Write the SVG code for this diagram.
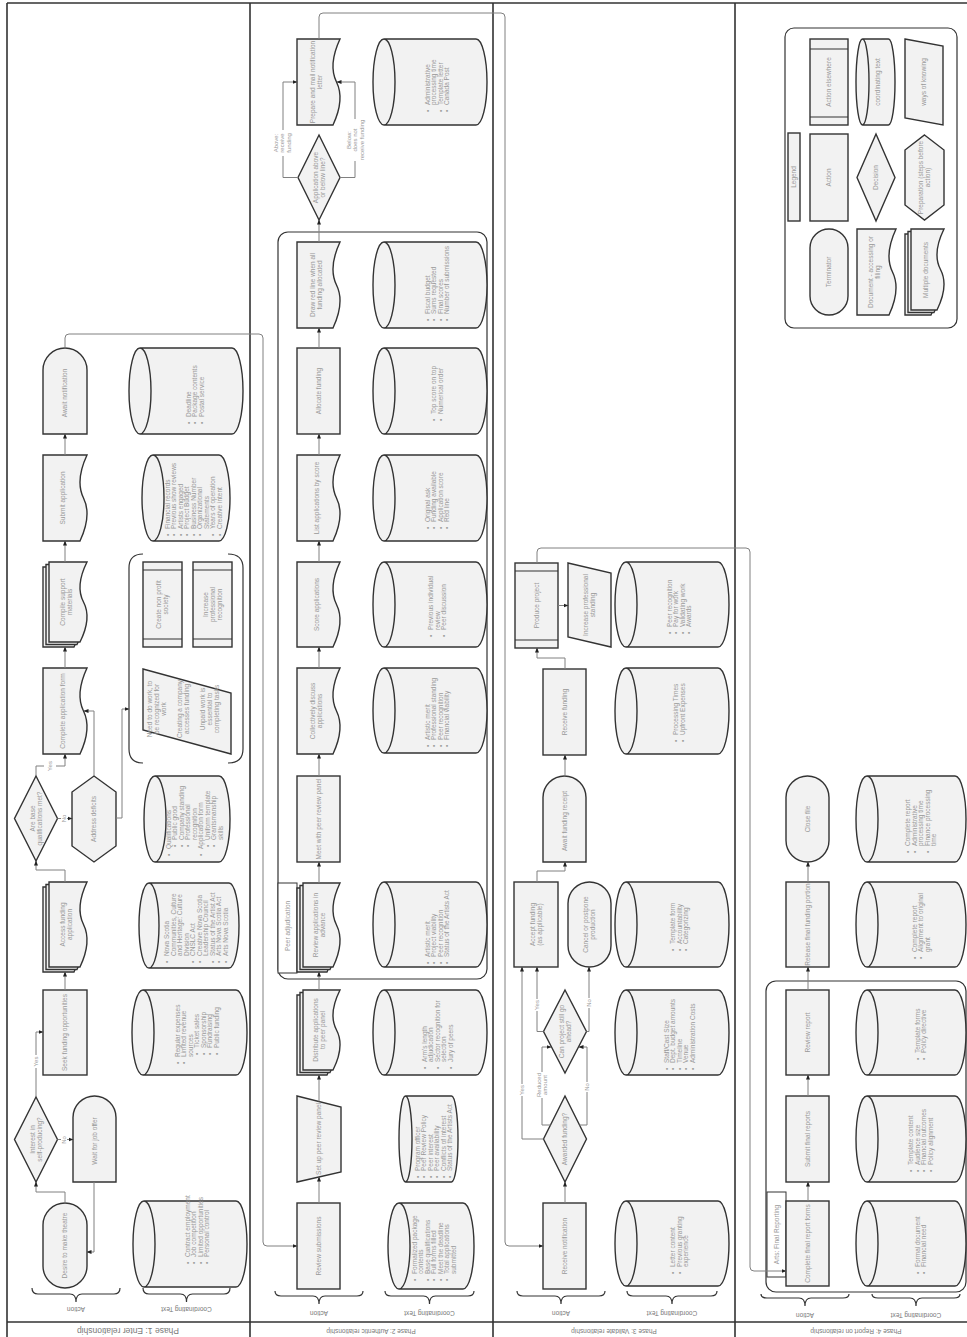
<svg xmlns="http://www.w3.org/2000/svg" width="967" height="1337" viewBox="0 0 967 1337">
<defs>
<style>
.s{fill:#f2f2f2;stroke:#333;stroke-width:1.4}
.g{fill:none;stroke:#333;stroke-width:1.2}
.lb{fill:#fff;stroke:#333;stroke-width:1}
.t{font-family:"Liberation Sans",Arial,sans-serif;font-size:6.5px;fill:#999}
.lt{font-family:"Liberation Sans",Arial,sans-serif;font-size:6px;fill:#999}
.h{font-family:"Liberation Sans",Arial,sans-serif;font-size:6.5px;fill:#777}
.c{fill:none;stroke:#808080;stroke-width:1;marker-end:url(#ah)}
.f{fill:none;stroke:#333;stroke-width:1.6}
.br{fill:none;stroke:#333;stroke-width:1.2}
.w{fill:#fff}
</style>
<marker id="ah" viewBox="0 0 10 10" refX="9" refY="5" markerWidth="5" markerHeight="5" orient="auto" markerUnits="userSpaceOnUse"><path d="M0,1 L10,5 L0,9 Z" fill="#222"/></marker>
</defs>
<rect x="0" y="0" width="967" height="1337" fill="#fff"/>
<g id="frame">
<path class="f" d="M7,3 H967 M7,3 V1337 M250,3 V1337 M493,3 V1337 M735,3 V1337 M7,1322 H967"/>
<text class="h" style="font-size:8.5px" text-anchor="middle" transform="translate(128,1328) rotate(180)">Phase 1: Enter relationship</text>
<text class="h" text-anchor="middle" transform="translate(371,1329) rotate(180)">Phase 2: Authentic relationship</text>
<text class="h" text-anchor="middle" transform="translate(614,1329) rotate(180)">Phase 3: Validate relationship</text>
<text class="h" text-anchor="middle" transform="translate(856,1329) rotate(180)">Phase 4: Report on relationship</text>
<path class="br" d="M32,1288 Q32,1294 38,1294 H70 Q76,1294 76,1302 Q76,1294 82,1294 H114 Q120,1294 120,1288"/>
<path class="br" d="M143,1288 Q143,1294 149,1294 H180.5 Q186.5,1294 186.5,1302 Q186.5,1294 192.5,1294 H224 Q230,1294 230,1288"/>
<path class="br" d="M275,1291 Q275,1296 281,1296 H313 Q319,1296 319,1304 Q319,1296 325,1296 H357 Q363,1296 363,1291"/>
<path class="br" d="M385,1291 Q385,1296 391,1296 H423.5 Q429.5,1296 429.5,1304 Q429.5,1296 435.5,1296 H468 Q474,1296 474,1291"/>
<path class="br" d="M517,1291 Q517,1296 523,1296 H555 Q561,1296 561,1304 Q561,1296 567,1296 H599 Q605,1296 605,1291"/>
<path class="br" d="M627,1291 Q627,1296 633,1296 H666 Q672,1296 672,1304 Q672,1296 678,1296 H711 Q717,1296 717,1291"/>
<path class="br" d="M761,1294 Q761,1298 767,1298 H799 Q805,1298 805,1306 Q805,1298 811,1298 H843 Q849,1298 849,1294"/>
<path class="br" d="M872,1294 Q872,1298 878,1298 H910 Q916,1298 916,1306 Q916,1298 922,1298 H954 Q960,1298 960,1294"/>
<text class="h" text-anchor="middle" transform="translate(76,1306.5) rotate(180)">Action</text>
<text class="h" text-anchor="middle" transform="translate(186.5,1306.5) rotate(180)">Coordinating Text</text>
<text class="h" text-anchor="middle" transform="translate(319,1310.5) rotate(180)">Action</text>
<text class="h" text-anchor="middle" transform="translate(429.5,1310.5) rotate(180)">Coordinating Text</text>
<text class="h" text-anchor="middle" transform="translate(561,1310.5) rotate(180)">Action</text>
<text class="h" text-anchor="middle" transform="translate(672,1310.5) rotate(180)">Coordinating Text</text>
<text class="h" text-anchor="middle" transform="translate(805,1312.5) rotate(180)">Action</text>
<text class="h" text-anchor="middle" transform="translate(916,1312.5) rotate(180)">Coordinating Text</text>
</g>

<g id="containers">
<path class="g" d="M143,554 Q129,554 129,568 V749 Q129,763 143,763 M228,554 Q243,554 243,568 V749 Q243,763 228,763"/>
<rect class="g" x="278" y="232" width="209" height="747" rx="10"/>
<rect class="lb" x="278" y="883" width="19" height="90"/>
<text class="t" text-anchor="middle" transform="translate(287.5,926) rotate(-90)" y="2.2">Peer adjudication</text>
<rect class="g" x="766" y="981" width="200" height="311" rx="10"/>
<rect class="lb" x="767" y="1192" width="19" height="85"/>
<text class="t" text-anchor="middle" transform="translate(776.5,1234.5) rotate(-90)" y="2.2">Arts: Final Reporting</text>
</g>

<g id="n-desire"><rect class="s" x="43" y="1203" width="44" height="85" rx="22"/><text class="t" text-anchor="middle" transform="translate(65,1245.5) rotate(-90)" y="2.2">Desire to make theatre</text></g>
<g id="n-interest"><polygon class="s" points="36,1097 57.5,1139.5 36,1182 14.5,1139.5"/><text class="t" text-anchor="middle" transform="translate(36,1139.5) rotate(-90)"><tspan x="0" dy="-1.3">Interest in</tspan><tspan x="0" dy="7">self-producing?</tspan></text></g>
<g id="n-wait"><path class="s" d="M73,1182 V1117.5 A21.5,21.5 0 0 1 116,1117.5 V1182 Z"/><text class="t" text-anchor="middle" transform="translate(94.5,1141) rotate(-90)" y="2.2">Wait for job offer</text></g>
<g id="n-seek"><rect class="s" x="43" y="990" width="44" height="85"/><text class="t" text-anchor="middle" transform="translate(65,1032.5) rotate(-90)" y="2.2">Seek funding opportunities</text></g>
<g id="n-access"><path class="s" d="M43,887 H81 Q69,912.5 77.5,929.5 T74,972 H43 Z"/><path class="s" d="M46,884.5 H84 Q72,910 80.5,927 T77,969.5 H46 Z"/><path class="s" d="M49,882 H87 Q75,907.5 83.5,924.5 T80,967 H49 Z"/><text class="t" text-anchor="middle" transform="translate(66,924.5) rotate(-90)"><tspan x="0" dy="-1.3">Access funding</tspan><tspan x="0" dy="7">application</tspan></text></g>
<g id="n-arebase"><polygon class="s" points="36,776 57.5,818.5 36,861 14.5,818.5"/><text class="t" text-anchor="middle" transform="translate(36,818.5) rotate(-90)"><tspan x="0" dy="-1.3">Are base</tspan><tspan x="0" dy="7">qualifications met?</tspan></text></g>
<g id="n-address"><polygon class="s" points="94,776 116,792 116,846 94,862 72,846 72,792"/><text class="t" text-anchor="middle" transform="translate(94,819) rotate(-90)" y="2.2">Address deficits</text></g>
<g id="n-complete"><path class="s" d="M43,668 H87 Q75,693.8 83.5,711 T80,754 H43 Z"/><text class="t" text-anchor="middle" transform="translate(63,711) rotate(-90)" y="2.2">Complete application form</text></g>
<g id="n-compile"><path class="s" d="M43,567 H81 Q69,591 77.5,607 T74,647 H43 Z"/><path class="s" d="M46,564.5 H84 Q72,588.5 80.5,604.5 T77,644.5 H46 Z"/><path class="s" d="M49,562 H87 Q75,586 83.5,602 T80,642 H49 Z"/><text class="t" text-anchor="middle" transform="translate(66,602) rotate(-90)"><tspan x="0" dy="-1.3">Compile support</tspan><tspan x="0" dy="7">materials</tspan></text></g>
<g id="n-submit"><path class="s" d="M43,455 H87 Q75,480.8 83.5,498 T80,541 H43 Z"/><text class="t" text-anchor="middle" transform="translate(63,498) rotate(-90)" y="2.2">Submit application</text></g>
<g id="n-await"><path class="s" d="M43,434 V370 A22,22 0 0 1 87,370 V434 Z"/><text class="t" text-anchor="middle" transform="translate(65,393) rotate(-90)" y="2.2">Await notification</text></g>

<g id="n-group1-ways"><polygon class="s" points="143,669 231,693 231,754 143,730"/><text class="t" text-anchor="middle" transform="translate(187,709) rotate(-90)"><tspan x="0" dy="-35">Need to do work, to</tspan><tspan x="0" dy="7">be recognized for</tspan><tspan x="0" dy="6.5">work</tspan><tspan x="0" dy="16.5">Creating a company</tspan><tspan x="0" dy="7">accesses funding</tspan><tspan x="0" dy="16">Unpaid work is</tspan><tspan x="0" dy="7">essential to</tspan><tspan x="0" dy="7">completing  tasks</tspan></text></g>
<g id="n-nonprofit"><rect class="s" x="143" y="562" width="39" height="85"/><path class="g" d="M143,570 H182 M143,639 H182"/><text class="t" text-anchor="middle" transform="translate(162.5,604.5) rotate(-90)"><tspan x="0" dy="-1.3">Create non profit</tspan><tspan x="0" dy="7">society</tspan></text></g>
<g id="n-increase-recog"><rect class="s" x="193" y="562" width="39" height="85"/><path class="g" d="M193,570 H232 M193,639 H232"/><text class="t" text-anchor="middle" transform="translate(212.5,604.5) rotate(-90)"><tspan x="0" dy="-4.8">Increase</tspan><tspan x="0" dy="7">professional</tspan><tspan x="0" dy="7">recognition</tspan></text></g>

<g id="cyl-a"><path class="s" d="M144,1201 H236 A11,43 0 0 1 236,1287 H144 A11,43 0 0 1 144,1201 Z M144,1201 A11,43 0 0 1 144,1287"/><text class="t" transform="translate(197.5,1264) rotate(-90)"><tspan x="0" dy="-7.55">•</tspan><tspan x="7">Contract employment</tspan><tspan x="0" dy="6.5">•</tspan><tspan x="7">Job competition</tspan><tspan x="0" dy="6.5">•</tspan><tspan x="7">Limited opportunities</tspan><tspan x="0" dy="6.5">•</tspan><tspan x="7">Personal control</tspan></text></g>
<g id="cyl-b"><path class="s" d="M143,990 H236 A11,42.5 0 0 1 236,1075 H143 A11,42.5 0 0 1 143,990 Z M143,990 A11,42.5 0 0 1 143,1075"/><text class="t" transform="translate(197,1064) rotate(-90)"><tspan x="0" dy="-17.3">•</tspan><tspan x="7">Regular expenses</tspan><tspan x="0" dy="6.5">•</tspan><tspan x="7">Limited revenue</tspan><tspan x="7" dy="6.5">sources</tspan><tspan x="9" dy="6.5">•</tspan><tspan x="16">Ticket sales</tspan><tspan x="9" dy="6.5">•</tspan><tspan x="16">Sponsorship</tspan><tspan x="9" dy="6.5">•</tspan><tspan x="16">Fundraising</tspan><tspan x="9" dy="6.5">•</tspan><tspan x="16">Public funding</tspan></text></g>
<g id="cyl-c"><path class="s" d="M149,883 H229 A10,42.5 0 0 1 229,968 H149 A10,42.5 0 0 1 149,883 Z M149,883 A10,42.5 0 0 1 149,968"/><text class="t" transform="translate(196.5,963) rotate(-90)"><tspan x="0" dy="-27.05">•</tspan><tspan x="7">Nova Scotia</tspan><tspan x="7" dy="6.5">Communities, Culture</tspan><tspan x="7" dy="6.5">and Heritage: Culture</tspan><tspan x="7" dy="6.5">Division</tspan><tspan x="0" dy="6.5">•</tspan><tspan x="7">CNSLC Act</tspan><tspan x="0" dy="6.5">•</tspan><tspan x="7">Creative Nova Scotia</tspan><tspan x="7" dy="6.5">Leadership Council</tspan><tspan x="0" dy="6.5">•</tspan><tspan x="7">Status of the Artist Act</tspan><tspan x="0" dy="6.5">•</tspan><tspan x="7">Arts Nova Scotia Act</tspan><tspan x="0" dy="6.5">•</tspan><tspan x="7">Arts Nova Scotia</tspan></text></g>
<g id="cyl-d"><path class="s" d="M155,776 H219 A11,43 0 0 1 219,862 H155 A11,43 0 0 1 155,776 Z M155,776 A11,43 0 0 1 155,862"/><text class="t" transform="translate(194.5,856) rotate(-90)"><tspan x="0" dy="-23.8">•</tspan><tspan x="7">Qualifications</tspan><tspan x="9" dy="6.5">•</tspan><tspan x="16">Public good</tspan><tspan x="9" dy="6.5">•</tspan><tspan x="16">Company standing</tspan><tspan x="9" dy="6.5">•</tspan><tspan x="16">Professional</tspan><tspan x="16" dy="6.5">recognition</tspan><tspan x="0" dy="6.5">•</tspan><tspan x="7">Application form</tspan><tspan x="9" dy="6.5">•</tspan><tspan x="16">Uniform template</tspan><tspan x="9" dy="6.5">•</tspan><tspan x="16">Grantsmanship</tspan><tspan x="16" dy="6.5">skills</tspan></text></g>
<g id="cyl-e"><path class="s" d="M153,455 H219 A11,43 0 0 1 219,541 H153 A11,43 0 0 1 153,455 Z M153,455 A11,43 0 0 1 153,541"/><text class="t" transform="translate(193.5,536) rotate(-90)"><tspan x="0" dy="-23.8">•</tspan><tspan x="7">Financial records</tspan><tspan x="0" dy="6.5">•</tspan><tspan x="7">Previous show reviews</tspan><tspan x="0" dy="6.5">•</tspan><tspan x="7">Artists engaged</tspan><tspan x="0" dy="6.5">•</tspan><tspan x="7">Project Budget</tspan><tspan x="0" dy="6.5">•</tspan><tspan x="7">Business Number</tspan><tspan x="0" dy="6.5">•</tspan><tspan x="7">Organizational</tspan><tspan x="7" dy="6.5">Statements</tspan><tspan x="0" dy="6.5">•</tspan><tspan x="7">Years of operation</tspan><tspan x="0" dy="6.5">•</tspan><tspan x="7">Creative intent</tspan></text></g>
<g id="cyl-f"><path class="s" d="M140,348 H232 A11,43 0 0 1 232,434 H140 A11,43 0 0 1 140,348 Z M140,348 A11,43 0 0 1 140,434"/><text class="t" transform="translate(195,424) rotate(-90)"><tspan x="0" dy="-4.3">•</tspan><tspan x="7">Deadline</tspan><tspan x="0" dy="6.5">•</tspan><tspan x="7">Package contents</tspan><tspan x="0" dy="6.5">•</tspan><tspan x="7">Postal service</tspan></text></g>

<g id="n-review-sub"><rect class="s" x="297" y="1203" width="43" height="86"/><text class="t" text-anchor="middle" transform="translate(318.5,1246) rotate(-90)" y="2.2">Review submissions</text></g>
<g id="n-setup"><polygon class="s" points="297,1096 341,1107 341,1172 297,1182"/><text class="t" text-anchor="middle" transform="translate(319,1139) rotate(-90)" y="2.2">Set up peer review panel</text></g>
<g id="n-distribute"><path class="s" d="M297,995 H334 Q322,1019 330.5,1035 T327,1075 H297 Z"/><path class="s" d="M300,992.5 H337 Q325,1016.5 333.5,1032.5 T330,1072.5 H300 Z"/><path class="s" d="M303,990 H340 Q328,1014 336.5,1030 T333,1070 H303 Z"/><text class="t" text-anchor="middle" transform="translate(319.5,1030) rotate(-90)"><tspan x="0" dy="-1.3">Distribute applications</tspan><tspan x="0" dy="7">to peer panel</tspan></text></g>
<g id="n-review-adv"><path class="s" d="M297,888 H334 Q322,913.2 330.5,930 T327,972 H297 Z"/><path class="s" d="M300,885.5 H337 Q325,910.7 333.5,927.5 T330,969.5 H300 Z"/><path class="s" d="M303,883 H340 Q328,908.2 336.5,925 T333,967 H303 Z"/><text class="t" text-anchor="middle" transform="translate(319.5,925) rotate(-90)"><tspan x="0" dy="-1.3">Review applications in</tspan><tspan x="0" dy="7">advance</tspan></text></g>
<g id="n-meet"><rect class="s" x="297" y="776" width="43" height="86"/><text class="t" text-anchor="middle" transform="translate(318.5,819) rotate(-90)" y="2.2">Meet with peer review panel</text></g>
<g id="n-collect"><path class="s" d="M297,668 H340 Q328,693.8 336.5,711 T333,754 H297 Z"/><text class="t" text-anchor="middle" transform="translate(316.5,711) rotate(-90)"><tspan x="0" dy="-1.3">Collectively discuss</tspan><tspan x="0" dy="7">applications</tspan></text></g>
<g id="n-score"><path class="s" d="M297,562 H340 Q328,587.5 336.5,604.5 T333,647 H297 Z"/><text class="t" text-anchor="middle" transform="translate(316.5,604.5) rotate(-90)" y="2.2">Score applications</text></g>
<g id="n-list"><path class="s" d="M297,455 H340 Q328,480.8 336.5,498 T333,541 H297 Z"/><text class="t" text-anchor="middle" transform="translate(316.5,498) rotate(-90)" y="2.2">List applications by score</text></g>
<g id="n-allocate"><rect class="s" x="297" y="348" width="43" height="86"/><text class="t" text-anchor="middle" transform="translate(318.5,391) rotate(-90)" y="2.2">Allocate funding</text></g>
<g id="n-draw"><path class="s" d="M297,242 H340 Q328,267.8 336.5,285 T333,328 H297 Z"/><text class="t" text-anchor="middle" transform="translate(316.5,285) rotate(-90)"><tspan x="0" dy="-1.3">Draw red line when all</tspan><tspan x="0" dy="7">funding allocated</tspan></text></g>
<g id="n-above"><polygon class="s" points="319,135 340,177.5 319,220 298,177.5"/><text class="t" text-anchor="middle" transform="translate(319,177.5) rotate(-90)"><tspan x="0" dy="-1.3">Application above</tspan><tspan x="0" dy="7">or below line?</tspan></text></g>
<g id="n-prepare"><path class="s" d="M297,39 H340 Q328,64.8 336.5,82 T333,125 H297 Z"/><text class="t" text-anchor="middle" transform="translate(316.5,82) rotate(-90)"><tspan x="0" dy="-1.3">Prepare and mail notification</tspan><tspan x="0" dy="7">letter</tspan></text></g>

<g id="cyl-g"><path class="s" d="M384,39 H476 A11,43 0 0 1 476,125 H384 A11,43 0 0 1 384,39 Z M384,39 A11,43 0 0 1 384,125"/><text class="t" transform="translate(437.5,112) rotate(-90)"><tspan x="0" dy="-7.55">•</tspan><tspan x="7">Administrative</tspan><tspan x="7" dy="6.5">processing time</tspan><tspan x="0" dy="6.5">•</tspan><tspan x="7">Template letter</tspan><tspan x="0" dy="6.5">•</tspan><tspan x="7">Canada Post</tspan></text></g>
<g id="cyl-h"><path class="s" d="M384,242 H476 A11,43 0 0 1 476,328 H384 A11,43 0 0 1 384,242 Z M384,242 A11,43 0 0 1 384,328"/><text class="t" transform="translate(437.5,321) rotate(-90)"><tspan x="0" dy="-7.55">•</tspan><tspan x="7">Fiscal budget</tspan><tspan x="0" dy="6.5">•</tspan><tspan x="7">Sums requested</tspan><tspan x="0" dy="6.5">•</tspan><tspan x="7">Final scores</tspan><tspan x="0" dy="6.5">•</tspan><tspan x="7">Number of submissions</tspan></text></g>
<g id="cyl-i"><path class="s" d="M384,348 H476 A11,43 0 0 1 476,434 H384 A11,43 0 0 1 384,348 Z M384,348 A11,43 0 0 1 384,434"/><text class="t" transform="translate(437.5,421) rotate(-90)"><tspan x="0" dy="-1.05">•</tspan><tspan x="7">Top score on top</tspan><tspan x="0" dy="6.5">•</tspan><tspan x="7">Numerical order</tspan></text></g>
<g id="cyl-j"><path class="s" d="M384,455 H476 A11,43 0 0 1 476,541 H384 A11,43 0 0 1 384,455 Z M384,455 A11,43 0 0 1 384,541"/><text class="t" transform="translate(437.5,529) rotate(-90)"><tspan x="0" dy="-7.55">•</tspan><tspan x="7">Original ask</tspan><tspan x="0" dy="6.5">•</tspan><tspan x="7">Funding available</tspan><tspan x="0" dy="6.5">•</tspan><tspan x="7">Application score</tspan><tspan x="0" dy="6.5">•</tspan><tspan x="7">Red line</tspan></text></g>
<g id="cyl-k"><path class="s" d="M384,562 H476 A11,42.5 0 0 1 476,647 H384 A11,42.5 0 0 1 384,562 Z M384,562 A11,42.5 0 0 1 384,647"/><text class="t" transform="translate(437.5,637) rotate(-90)"><tspan x="0" dy="-4.3">•</tspan><tspan x="7">Previous individual</tspan><tspan x="7" dy="6.5">review</tspan><tspan x="0" dy="6.5">•</tspan><tspan x="7">Peer discussion</tspan></text></g>
<g id="cyl-l"><path class="s" d="M384,668 H476 A11,42.5 0 0 1 476,753 H384 A11,42.5 0 0 1 384,668 Z M384,668 A11,42.5 0 0 1 384,753"/><text class="t" transform="translate(437.5,747) rotate(-90)"><tspan x="0" dy="-7.55">•</tspan><tspan x="7">Artistic merit</tspan><tspan x="0" dy="6.5">•</tspan><tspan x="7">Professional standing</tspan><tspan x="0" dy="6.5">•</tspan><tspan x="7">Peer recognition</tspan><tspan x="0" dy="6.5">•</tspan><tspan x="7">Financial viability</tspan></text></g>
<g id="cyl-m"><path class="s" d="M384,882 H476 A11,42.5 0 0 1 476,967 H384 A11,42.5 0 0 1 384,882 Z M384,882 A11,42.5 0 0 1 384,967"/><text class="t" transform="translate(437.5,964) rotate(-90)"><tspan x="0" dy="-7.55">•</tspan><tspan x="7">Artistic merit</tspan><tspan x="0" dy="6.5">•</tspan><tspan x="7">Project viability</tspan><tspan x="0" dy="6.5">•</tspan><tspan x="7">Peer recognition</tspan><tspan x="0" dy="6.5">•</tspan><tspan x="7">Status of the Artists Act</tspan></text></g>
<g id="cyl-n"><path class="s" d="M384,990 H476 A11,42.5 0 0 1 476,1075 H384 A11,42.5 0 0 1 384,990 Z M384,990 A11,42.5 0 0 1 384,1075"/><text class="t" transform="translate(437.5,1069) rotate(-90)"><tspan x="0" dy="-10.8">•</tspan><tspan x="7">Arm's length</tspan><tspan x="7" dy="6.5">adjudication</tspan><tspan x="0" dy="6.5">•</tspan><tspan x="7">Sector recognition for</tspan><tspan x="7" dy="6.5">selection</tspan><tspan x="0" dy="6.5">•</tspan><tspan x="7">Jury of peers</tspan></text></g>
<g id="cyl-o"><path class="s" d="M405.5,1096 H451.5 A6.5,43 0 0 1 451.5,1182 H405.5 A6.5,43 0 0 1 405.5,1096 Z M405.5,1096 A6.5,43 0 0 1 405.5,1182"/><text class="t" transform="translate(434,1178) rotate(-90)"><tspan x="0" dy="-14.05">•</tspan><tspan x="7">Program officer</tspan><tspan x="0" dy="6.5">•</tspan><tspan x="7">Peer Review Policy</tspan><tspan x="0" dy="6.5">•</tspan><tspan x="7">Peer interest</tspan><tspan x="0" dy="6.5">•</tspan><tspan x="7">Peer availability</tspan><tspan x="0" dy="6.5">•</tspan><tspan x="7">Conflicts of interest</tspan><tspan x="0" dy="6.5">•</tspan><tspan x="7">Status of the Artists Act</tspan></text></g>
<g id="cyl-p"><path class="s" d="M399,1203 H463 A11,43 0 0 1 463,1289 H399 A11,43 0 0 1 399,1203 Z M399,1203 A11,43 0 0 1 399,1289"/><text class="t" transform="translate(434,1281) rotate(-90)"><tspan x="0" dy="-17.3">•</tspan><tspan x="7">Formalized package</tspan><tspan x="7" dy="6.5">contents</tspan><tspan x="0" dy="6.5">•</tspan><tspan x="7">Base qualifications</tspan><tspan x="0" dy="6.5">•</tspan><tspan x="7">Full forms filled</tspan><tspan x="0" dy="6.5">•</tspan><tspan x="7">Meet the deadline</tspan><tspan x="0" dy="6.5">•</tspan><tspan x="7">Total applications</tspan><tspan x="7" dy="6.5">submitted</tspan></text></g>

<g id="n-receive-notif"><rect class="s" x="543" y="1203" width="43" height="86"/><text class="t" text-anchor="middle" transform="translate(564.5,1246) rotate(-90)" y="2.2">Receive notification</text></g>
<g id="n-awarded"><polygon class="s" points="565,1096 586.5,1139 565,1182 543.5,1139"/><text class="t" text-anchor="middle" transform="translate(565,1139) rotate(-90)" y="2.2">Awarded funding?</text></g>
<g id="n-canproject"><polygon class="s" points="565,990 586.5,1031.5 565,1073 543.5,1031.5"/><text class="t" text-anchor="middle" transform="translate(565,1031.5) rotate(-90)"><tspan x="0" dy="-1.3">Can project still go</tspan><tspan x="0" dy="7">ahead?</tspan></text></g>
<g id="n-accept"><rect class="s" x="514" y="882" width="44" height="85"/><text class="t" text-anchor="middle" transform="translate(536,924.5) rotate(-90)"><tspan x="0" dy="-1.3">Accept funding</tspan><tspan x="0" dy="7">(as applicable)</tspan></text></g>
<g id="n-cancel"><rect class="s" x="568" y="882" width="43" height="85" rx="21.5"/><text class="t" text-anchor="middle" transform="translate(589.5,924.5) rotate(-90)"><tspan x="0" dy="-1.3">Cancel or postpone</tspan><tspan x="0" dy="7">production</tspan></text></g>
<g id="n-await-receipt"><path class="s" d="M543,862 V797.5 A21.5,21.5 0 0 1 586,797.5 V862 Z"/><text class="t" text-anchor="middle" transform="translate(564.5,821) rotate(-90)" y="2.2">Await funding receipt</text></g>
<g id="n-receive-fund"><rect class="s" x="543" y="669" width="43" height="86"/><text class="t" text-anchor="middle" transform="translate(564.5,712) rotate(-90)" y="2.2">Receive funding</text></g>
<g id="n-produce"><rect class="s" x="515" y="563" width="43" height="85"/><path class="g" d="M515,571 H558 M515,640 H558"/><text class="t" text-anchor="middle" transform="translate(536.5,605.5) rotate(-90)" y="2.2">Produce project</text></g>
<g id="n-increase-standing"><polygon class="s" points="568,563 611,573 611,647 568,637"/><text class="t" text-anchor="middle" transform="translate(589.5,605) rotate(-90)"><tspan x="0" dy="-1.3">Increase professional</tspan><tspan x="0" dy="7">standing</tspan></text></g>

<g id="cyl-q"><path class="s" d="M626,562 H718 A11,42.5 0 0 1 718,647 H626 A11,42.5 0 0 1 626,562 Z M626,562 A11,42.5 0 0 1 626,647"/><text class="t" transform="translate(679.5,634) rotate(-90)"><tspan x="0" dy="-7.55">•</tspan><tspan x="7">Peer recognition</tspan><tspan x="0" dy="6.5">•</tspan><tspan x="7">Pay for work</tspan><tspan x="0" dy="6.5">•</tspan><tspan x="7">Validating work</tspan><tspan x="0" dy="6.5">•</tspan><tspan x="7">Awards</tspan></text></g>
<g id="cyl-r"><path class="s" d="M626,668 H718 A11,43 0 0 1 718,754 H626 A11,43 0 0 1 626,668 Z M626,668 A11,43 0 0 1 626,754"/><text class="t" transform="translate(679.5,742) rotate(-90)"><tspan x="0" dy="-1.05">•</tspan><tspan x="7">Processing Times</tspan><tspan x="0" dy="6.5">•</tspan><tspan x="7">Upfront Expenses</tspan></text></g>
<g id="cyl-s"><path class="s" d="M626,882 H718 A11,42.5 0 0 1 718,967 H626 A11,42.5 0 0 1 626,882 Z M626,882 A11,42.5 0 0 1 626,967"/><text class="t" transform="translate(679.5,951) rotate(-90)"><tspan x="0" dy="-4.3">•</tspan><tspan x="7">Template form</tspan><tspan x="0" dy="6.5">•</tspan><tspan x="7">Accountability</tspan><tspan x="0" dy="6.5">•</tspan><tspan x="7">Categorizing</tspan></text></g>
<g id="cyl-t"><path class="s" d="M626,990 H718 A11,42.5 0 0 1 718,1075 H626 A11,42.5 0 0 1 626,990 Z M626,990 A11,42.5 0 0 1 626,1075"/><text class="t" transform="translate(679.5,1070) rotate(-90)"><tspan x="0" dy="-10.8">•</tspan><tspan x="7">Staff/Cast Size</tspan><tspan x="0" dy="6.5">•</tspan><tspan x="7">Dept. budget amounts</tspan><tspan x="0" dy="6.5">•</tspan><tspan x="7">Timeline</tspan><tspan x="0" dy="6.5">•</tspan><tspan x="7">Venue</tspan><tspan x="0" dy="6.5">•</tspan><tspan x="7">Administration Costs</tspan></text></g>
<g id="cyl-u"><path class="s" d="M626,1201 H718 A11,42.5 0 0 1 718,1286 H626 A11,42.5 0 0 1 626,1201 Z M626,1201 A11,42.5 0 0 1 626,1286"/><text class="t" transform="translate(679.5,1274) rotate(-90)"><tspan x="0" dy="-4.3">•</tspan><tspan x="7">Letter content</tspan><tspan x="0" dy="6.5">•</tspan><tspan x="7">Previous granting</tspan><tspan x="7" dy="6.5">experience</tspan></text></g>

<g id="n-complete-final"><rect class="s" x="786" y="1201" width="43" height="85"/><text class="t" text-anchor="middle" transform="translate(807.5,1243.5) rotate(-90)" y="2.2">Complete final report forms</text></g>
<g id="n-submit-final"><rect class="s" x="786" y="1096" width="43" height="86"/><text class="t" text-anchor="middle" transform="translate(807.5,1139) rotate(-90)" y="2.2">Submit final reports</text></g>
<g id="n-review-report"><rect class="s" x="786" y="990" width="43" height="85"/><text class="t" text-anchor="middle" transform="translate(807.5,1032.5) rotate(-90)" y="2.2">Review report</text></g>
<g id="n-release"><rect class="s" x="786" y="882" width="43" height="85"/><text class="t" text-anchor="middle" transform="translate(807.5,924.5) rotate(-90)" y="2.2">Release final funding portion</text></g>
<g id="n-close"><rect class="s" x="786" y="776" width="43" height="86" rx="21.5"/><text class="t" text-anchor="middle" transform="translate(807.5,819) rotate(-90)" y="2.2">Close file</text></g>

<g id="cyl-v"><path class="s" d="M867,776 H955 A11,43 0 0 1 955,862 H867 A11,43 0 0 1 867,776 Z M867,776 A11,43 0 0 1 867,862"/><text class="t" transform="translate(921,853) rotate(-90)"><tspan x="0" dy="-10.8">•</tspan><tspan x="7">Complete report</tspan><tspan x="0" dy="6.5">•</tspan><tspan x="7">Administrative</tspan><tspan x="7" dy="6.5">processing time</tspan><tspan x="0" dy="6.5">•</tspan><tspan x="7">Finance processing</tspan><tspan x="7" dy="6.5">time</tspan></text></g>
<g id="cyl-w"><path class="s" d="M867,882 H955 A11,42.5 0 0 1 955,967 H867 A11,42.5 0 0 1 867,882 Z M867,882 A11,42.5 0 0 1 867,967"/><text class="t" transform="translate(921,959) rotate(-90)"><tspan x="0" dy="-4.3">•</tspan><tspan x="7">Complete report</tspan><tspan x="0" dy="6.5">•</tspan><tspan x="7">Alignment to original</tspan><tspan x="7" dy="6.5">grant</tspan></text></g>
<g id="cyl-x"><path class="s" d="M867,990 H955 A11,42.5 0 0 1 955,1075 H867 A11,42.5 0 0 1 867,990 Z M867,990 A11,42.5 0 0 1 867,1075"/><text class="t" transform="translate(921,1060) rotate(-90)"><tspan x="0" dy="-1.05">•</tspan><tspan x="7">Template forms</tspan><tspan x="0" dy="6.5">•</tspan><tspan x="7">Policy directive</tspan></text></g>
<g id="cyl-y"><path class="s" d="M867,1096 H955 A11,43 0 0 1 955,1182 H867 A11,43 0 0 1 867,1096 Z M867,1096 A11,43 0 0 1 867,1182"/><text class="t" transform="translate(921,1172) rotate(-90)"><tspan x="0" dy="-7.55">•</tspan><tspan x="7">Template content</tspan><tspan x="0" dy="6.5">•</tspan><tspan x="7">Audience size</tspan><tspan x="0" dy="6.5">•</tspan><tspan x="7">Financial outcomes</tspan><tspan x="0" dy="6.5">•</tspan><tspan x="7">Policy alignment</tspan></text></g>
<g id="cyl-z"><path class="s" d="M867,1201 H955 A11,42.5 0 0 1 955,1286 H867 A11,42.5 0 0 1 867,1201 Z M867,1201 A11,42.5 0 0 1 867,1286"/><text class="t" transform="translate(921,1274) rotate(-90)"><tspan x="0" dy="-1.05">•</tspan><tspan x="7">Formal document</tspan><tspan x="0" dy="6.5">•</tspan><tspan x="7">Financial need</tspan></text></g>

<g id="legend">
<rect class="g" x="785" y="28" width="172" height="300" rx="9"/>
<rect class="s" x="788" y="133" width="12" height="88"/>
<text class="t" text-anchor="middle" transform="translate(794,177) rotate(-90)" y="2.2">Legend</text>
<rect class="s" x="810" y="39" width="38" height="86"/><path class="g" d="M810,49 H848 M810,117 H848"/>
<text class="t" text-anchor="middle" transform="translate(829,82) rotate(-90)" y="2.2">Action elsewhere</text>
<rect class="s" x="810" y="134" width="38" height="87"/>
<text class="t" text-anchor="middle" transform="translate(829,177.5) rotate(-90)" y="2.2">Action</text>
<rect class="s" x="810" y="229" width="38" height="86" rx="19"/>
<text class="t" text-anchor="middle" transform="translate(829,272) rotate(-90)" y="2.2">Terminator</text>
<path class="s" d="M862.5,39 H888.5 A6.5,43 0 0 1 888.5,125 H862.5 A6.5,43 0 0 1 862.5,39 Z M862.5,39 A6.5,43 0 0 1 862.5,125"/>
<text class="t" text-anchor="middle" transform="translate(878,82) rotate(-90)" y="2.2">coordinating text</text>
<polygon class="s" points="876,134 895,177.5 876,221 857,177.5"/>
<text class="t" text-anchor="middle" transform="translate(876,177.5) rotate(-90)" y="2.2">Decision</text>
<path class="s" d="M857,229 H896 Q884,254.8 892.5,272 T889,315 H857 Z"/>
<text class="t" text-anchor="middle" transform="translate(874,272) rotate(-90)"><tspan x="0" dy="-1.3">Document - accessing or</tspan><tspan x="0" dy="7">filing</tspan></text>
<polygon class="s" points="905,39 943,46 943,125 905,118"/>
<text class="t" text-anchor="middle" transform="translate(924,82) rotate(-90)" y="2.2">ways of knowing</text>
<polygon class="s" points="924.5,135 944,150 944,205 924.5,220 905,205 905,150"/>
<text class="t" text-anchor="middle" transform="translate(924.5,177.5) rotate(-90)"><tspan x="0" dy="-1.3">Preparation (steps before</tspan><tspan x="0" dy="7">action)</tspan></text>
<path class="s" d="M905,234 H938 Q926,258.3 934.5,274.5 T931,315 H905 Z"/>
<path class="s" d="M908,231.5 H941 Q929,255.8 937.5,272 T934,312.5 H908 Z"/>
<path class="s" d="M911,229 H944 Q932,253.3 940.5,269.5 T937,310 H911 Z"/>
<text class="t" text-anchor="middle" transform="translate(926,270) rotate(-90)" y="2.2">Multiple documents</text>
</g>

<g id="connectors">
<path class="c" d="M65,1203 V1192 H36 V1182"/>
<path class="c" d="M36,1097 V1032 H43"/>
<path class="c" d="M57.5,1139.5 H73"/>
<path class="c" d="M94,1182 V1252 H87"/>
<path class="c" d="M65,990 V972"/>
<path class="c" d="M65,882 V870 H36 V861"/>
<path class="c" d="M36,776 V766 H65 V754"/>
<path class="c" d="M57.5,818.5 H72"/>
<path class="c" d="M94,776 V711 H84"/>
<path class="c" d="M116,818 H122 V709 H129"/>
<path class="c" d="M65,668 V647"/>
<path class="c" d="M65,562 V541"/>
<path class="c" d="M65,455 V434"/>
<path class="c" d="M65,348 V338 Q65,334 69,334 H259 Q263,334 263,338 V1242 Q263,1246 267,1246 H297"/>
<path class="c" d="M319,1203 V1177"/>
<path class="c" d="M319,1101.5 V1075"/>
<path class="c" d="M319,990 V972"/>
<path class="c" d="M319,883 V862"/>
<path class="c" d="M319,776 V754"/>
<path class="c" d="M319,668 V647"/>
<path class="c" d="M319,562 V541"/>
<path class="c" d="M319,455 V434"/>
<path class="c" d="M319,348 V328"/>
<path class="c" d="M319,242 V220"/>
<path class="c" d="M298,177.5 H283 V82 H297"/>
<path class="c" d="M340,177.5 H355 V82 H337"/>
<path class="c" d="M319,39 V17 Q319,13 323,13 H501 Q505,13 505,17 V1242 Q505,1246 509,1246 H543"/>
<path class="c" d="M565,1203 V1182"/>
<path class="c" d="M543.5,1139 H522 V967"/>
<path class="c" d="M550.5,1125 H542 V1047 H551"/>
<path class="c" d="M579.5,1125 H587 V1047 H579"/>
<path class="c" d="M543.5,1031.5 H537 V967"/>
<path class="c" d="M586.5,1031.5 H589 V967"/>
<path class="c" d="M537,882 V871 H565 V862"/>
<path class="c" d="M565,776 V755"/>
<path class="c" d="M565,669 V658 H537 V648"/>
<path class="c" d="M558,605.5 H568"/>
<path class="c" d="M537,563 V552 Q537,548 541,548 H746 Q750,548 750,552 V1267 Q750,1271 754,1271 H786"/>
<path class="c" d="M808,1201 V1182"/>
<path class="c" d="M808,1096 V1075"/>
<path class="c" d="M808,990 V967"/>
<path class="c" d="M808,882 V862"/>
</g>

<g id="edge-labels">
<rect class="w" x="32.5" y="1055" width="7" height="13"/>
<text class="lt" text-anchor="middle" transform="translate(36,1061.5) rotate(-90)" y="2">Yes</text>
<rect class="w" x="61" y="1135" width="6" height="10"/>
<text class="lt" text-anchor="middle" transform="translate(64,1140) rotate(-90)" y="2">No</text>
<rect class="w" x="44" y="762.5" width="12" height="7"/>
<text class="lt" text-anchor="middle" transform="translate(50,766) rotate(-90)" y="2">Yes</text>
<rect class="w" x="61" y="814" width="6" height="10"/>
<text class="lt" text-anchor="middle" transform="translate(64,818.5) rotate(-90)" y="2">No</text>
<rect class="w" x="272" y="130" width="21" height="26"/>
<text class="lt" text-anchor="middle" transform="translate(282,143) rotate(-90)"><tspan x="0" dy="-4.5">Above:</tspan><tspan x="0" dy="6.5">receive</tspan><tspan x="0" dy="6.5">funding</tspan></text>
<rect class="w" x="344" y="119" width="22" height="42"/>
<text class="lt" text-anchor="middle" transform="translate(355,140) rotate(-90)"><tspan x="0" dy="-4.5">Below:</tspan><tspan x="0" dy="6.5">does not</tspan><tspan x="0" dy="6.5">receive funding</tspan></text>
<rect class="w" x="518.5" y="1084" width="7" height="12"/>
<text class="lt" text-anchor="middle" transform="translate(522,1090) rotate(-90)" y="2">Yes</text>
<rect class="w" x="535" y="1072" width="14" height="26"/>
<text class="lt" text-anchor="middle" transform="translate(542,1085) rotate(-90)"><tspan x="0" dy="-1.2">Reduced</tspan><tspan x="0" dy="6.5">amount</tspan></text>
<rect class="w" x="584" y="1082" width="6" height="10"/>
<text class="lt" text-anchor="middle" transform="translate(587,1087) rotate(-90)" y="2">No</text>
<rect class="w" x="533.5" y="999" width="7" height="12"/>
<text class="lt" text-anchor="middle" transform="translate(537,1005) rotate(-90)" y="2">Yes</text>
<rect class="w" x="586" y="998" width="6" height="10"/>
<text class="lt" text-anchor="middle" transform="translate(589,1003) rotate(-90)" y="2">No</text>
</g>
</svg>
